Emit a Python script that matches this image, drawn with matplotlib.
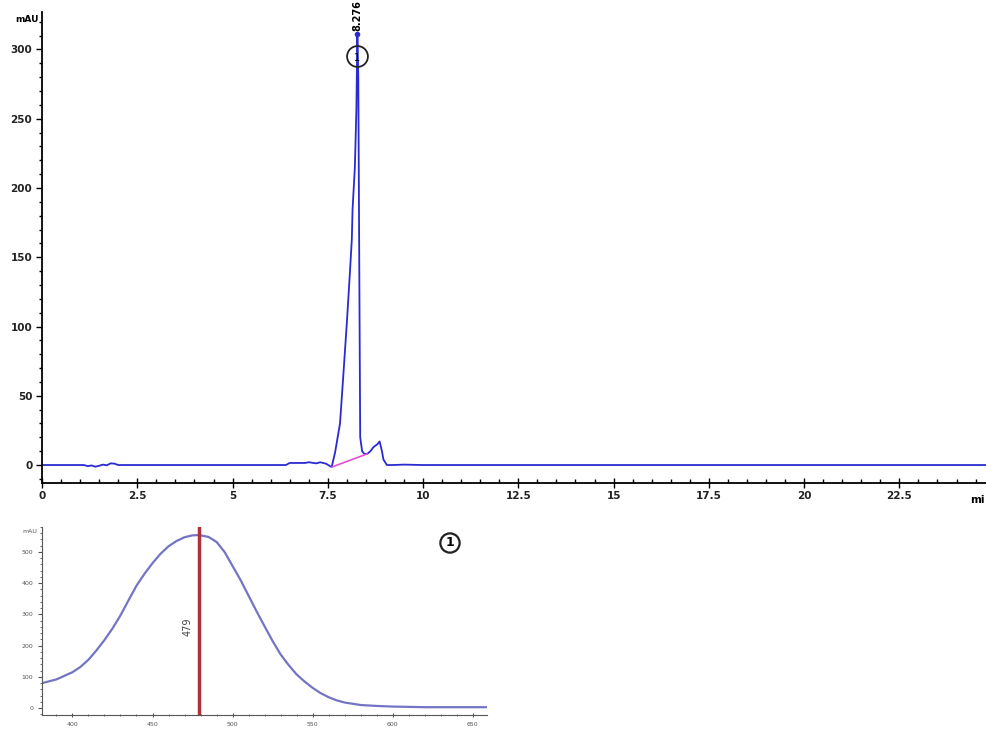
import numpy as np
import matplotlib.pyplot as plt
from matplotlib.ticker import MultipleLocator

# ------------------------------------------------------------------
# chromatogram trace
# ------------------------------------------------------------------
time_min = [0, 1.1, 1.2, 1.3, 1.4, 1.5, 1.6, 1.7, 1.8, 1.9, 2.0, 2.1,
            6.4, 6.5, 6.9, 7.0, 7.2, 7.3, 7.45, 7.60, 7.69, 7.82, 7.91,
            8.00, 8.08, 8.13, 8.15, 8.18, 8.21, 8.25, 8.276, 8.30, 8.33,
            8.35, 8.40, 8.46, 8.53, 8.62, 8.70, 8.80, 8.86, 8.92, 8.96,
            9.05, 9.2, 9.5, 10.0, 24.8]
signal_mau = [0, 0, -0.8, -0.3, -1.2, -0.5, 0.3, -0.2, 1.2, 1.0, 0, 0,
              0, 1.5, 1.5, 2.0, 1.2, 2.0, 1.0, -1.5, 9, 30, 66,
              103, 139, 163, 185, 200, 215, 257, 312, 280, 120,
              20, 10, 8, 8, 10, 13, 15, 17, 10, 4,
              0, 0, 0.3, 0, 0]

# integration baseline
base_t = [7.60, 8.53]
base_v = [-1.5, 8.0]

peak_rt = 8.276
peak_top = 312

# ------------------------------------------------------------------
# UV-Vis spectrum of peak 1
# ------------------------------------------------------------------
wavelength = [381, 390, 400, 405, 410, 415, 420, 425, 430, 435, 440, 445,
              450, 455, 460, 465, 470, 475, 479, 485, 490, 495, 500, 505,
              510, 515, 520, 525, 530, 535, 540, 545, 550, 555, 560, 565,
              570, 580, 590, 600, 620, 659]
absorb = [80, 92, 115, 132, 155, 185, 218, 255, 297, 345, 392, 430,
          464, 494, 518, 535, 547, 553, 554, 548, 532, 500, 455, 410,
          360, 310, 262, 215, 172, 138, 108, 85, 65, 48, 35, 25,
          18, 10, 7, 5, 3, 3]
lambda_max = 479

line_blue = "#2a2ad0"
fig = plt.figure(figsize=(9.87, 7.29), dpi=100)

# ---------------- main chromatogram ----------------
ax = fig.add_axes([0.0426, 0.3374, 0.9574, 0.646])
ax.plot(time_min, signal_mau, color=line_blue, lw=1.3)
ax.plot(base_t, base_v, color="#e050d0", lw=1.2)
ax.set_xlim(0, 24.8)
ax.set_ylim(-13, 327)
for s in ["top", "right"]:
    ax.spines[s].set_visible(False)
ax.spines["left"].set_linewidth(1.3)
ax.spines["bottom"].set_linewidth(1.3)

ax.xaxis.set_minor_locator(MultipleLocator(0.5))
ax.yaxis.set_minor_locator(MultipleLocator(10))
ax.set_xticks(np.arange(0, 24, 2.5))
ax.set_xticklabels(["0", "2.5", "5", "7.5", "10", "12.5", "15", "17.5",
                    "20", "22.5"])
ax.set_yticks([0, 50, 100, 150, 200, 250, 300])
ax.tick_params(axis="x", which="major", direction="inout", length=7,
               width=1, labelsize=7.5, pad=2)
ax.tick_params(axis="x", which="minor", direction="in", length=3, width=1)
ax.tick_params(axis="y", which="major", direction="out", length=4,
               width=1, labelsize=7.5, pad=3)
ax.tick_params(axis="y", which="minor", direction="out", length=2, width=1)
for lab in ax.get_xticklabels() + ax.get_yticklabels():
    lab.set_fontweight("bold")
    lab.set_color("#222222")

ax.text(-0.004, 322, "mAU", transform=ax.get_yaxis_transform(),
        ha="right", va="center", fontsize=6.5, fontweight="bold")
fig.text(0.998, 1 - 500 / 729, "mi", ha="right", va="center",
         fontsize=7.5, fontweight="bold")

# peak label + number circle
ax.text(peak_rt, peak_top + 1, "8.276", rotation=90, ha="center",
        va="bottom", fontsize=7, fontweight="bold")
ax.plot([peak_rt], [peak_top - 1], "o", ms=3, color=line_blue)
ax.plot([peak_rt], [295], "o", ms=15, mfc="none", mec="#222222", mew=1.3)
ax.text(peak_rt, 294, "1", ha="center", va="center", fontsize=7)

# ---------------- spectrum inset ----------------
ax2 = fig.add_axes([0.0426, 0.0192, 0.4509, 0.258])
ax2.plot(wavelength, absorb, color="#7474c4", lw=1.6)
ax2.axvline(lambda_max, color="#b0303c", lw=2.5)
ax2.set_xlim(381, 659)
ax2.set_ylim(-22, 580)
for s in ["top", "right"]:
    ax2.spines[s].set_visible(False)
ax2.spines["left"].set_color("#555555")
ax2.spines["bottom"].set_color("#555555")
ax2.xaxis.set_major_locator(MultipleLocator(50))
ax2.xaxis.set_minor_locator(MultipleLocator(10))
ax2.yaxis.set_minor_locator(MultipleLocator(20))
ax2.set_yticks([0, 100, 200, 300, 400, 500])
ax2.tick_params(axis="both", which="major", labelsize=4.5,
                labelcolor="#555555", color="#555555", length=3)
ax2.tick_params(axis="x", which="both", direction="inout")
ax2.tick_params(axis="both", which="minor", length=1.5, color="#555555")
ax2.text(-0.01, 565, "mAU", transform=ax2.get_yaxis_transform(),
         ha="right", va="center", fontsize=4.5, color="#555555")
ax2.text(lambda_max - 4, 260, "479", rotation=90, ha="right",
         va="center", fontsize=7, color="#444444")

# compound number marker below the chromatogram
fig.text(450 / 987, 1 - 543 / 729, "1", ha="center", va="center",
         fontsize=9, fontweight="bold",
         bbox=dict(boxstyle="circle,pad=0.25", fc="none", ec="#222222",
                   lw=1.6))

fig.savefig("out.png", dpi=100)
